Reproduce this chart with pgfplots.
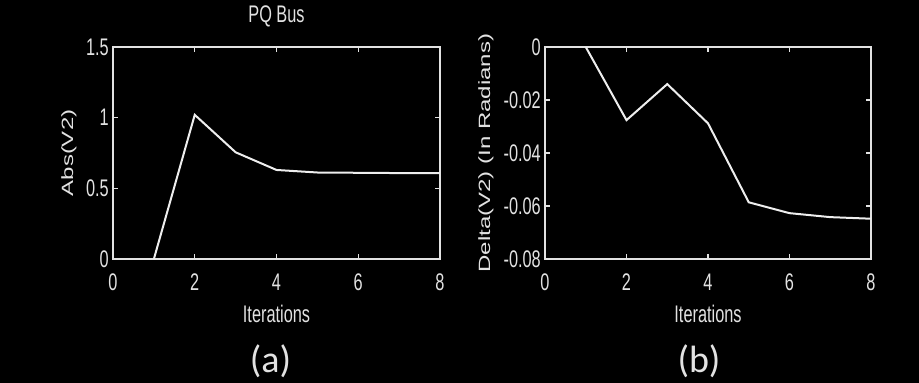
\documentclass[border=0pt]{standalone}
\usepackage{fontspec}
\setmainfont{Liberation Sans}
\newfontfamily\sqfont[FakeStretch=0.68]{Liberation Sans}
\newfontfamily\capfont{Carlito}
\usepackage{graphicx}
\usepackage{pgfplots}
\pgfplotsset{compat=1.18}
\definecolor{fg}{HTML}{E2E2E2}
\definecolor{ln}{HTML}{EEEEEE}
\pgfplotsset{mstyle/.style={
  scale only axis, height=212bp, anchor=south west,
  axis line style={fg, line width=1.6bp},
  every tick/.style={fg, line width=1.4bp},
  major tick length=5bp,
  tick align=inside, xtick pos=both, ytick pos=both,
  scaled y ticks=false, scaled x ticks=false,
  xmin=0, xmax=8, xtick={0,2,4,6,8},
  xticklabels={0,2,4,6,8},
  ticklabel style={font=\sqfont\fontsize{24bp}{28bp}\selectfont, text=fg, inner sep=0pt},
  xticklabel style={anchor=base, yshift=-32bp},
  yticklabel style={anchor=east, xshift=-4bp},
  xlabel={Iterations},
  xlabel style={at={(axis description cs:0.5,0)}, anchor=base, yshift=-63bp,
    font=\sqfont\fontsize{24bp}{28bp}\selectfont, text=fg, inner sep=0pt},
  ylabel style={anchor=center, rotate=0, font=\fontsize{24bp}{28bp}\selectfont, text=fg, inner sep=0pt},
  title style={at={(axis description cs:0.5,1)}, anchor=base, yshift=19bp,
    font=\sqfont\fontsize{24bp}{28bp}\selectfont, text=fg, inner sep=0pt},
  clip=false,
}}
\begin{document}
\begin{tikzpicture}
\fill[black] (0,0) rectangle (919bp,383bp);
\begin{axis}[mstyle, at={(113bp,124bp)}, width=327bp,
  title={PQ Bus},
  ymin=0, ymax=1.5, ytick={0,0.5,1,1.5}, yticklabels={0,0.5,1,1.5},
  ylabel={\scalebox{1}[0.68]{Abs(V2)}},
  ylabel style={at={(axis description cs:-0.1346,0.5)}},
]
\addplot[ln, line width=2bp] coordinates {
(1,0) (2,1.02) (3,0.755) (4,0.63) (5,0.612) (6,0.61) (7,0.608) (8,0.607)
};
\node[anchor=base, text=fg, font=\capfont\fontsize{38bp}{40bp}\selectfont, inner sep=0pt]
  at ([xshift=-6bp,yshift=-113bp]axis description cs:0.5,0) {(a)};
\end{axis}
\begin{axis}[mstyle, at={(545bp,124bp)}, width=326bp,
  ymin=-0.08, ymax=0, ytick={-0.08,-0.06,-0.04,-0.02,0},
  yticklabels={-0.08,-0.06,-0.04,-0.02,0},
  ylabel={\scalebox{1}[0.68]{Delta(V2) (In Radians)}},
  ylabel style={at={(axis description cs:-0.181,0.5)}},
]
\addplot[ln, line width=2bp] coordinates {
(1,0) (2,-0.0276) (3,-0.014) (4,-0.0288) (5,-0.0586) (6,-0.0627) (7,-0.0642) (8,-0.0648)
};
\node[anchor=base, text=fg, font=\capfont\fontsize{38bp}{40bp}\selectfont, inner sep=0pt]
  at ([xshift=-9bp,yshift=-113bp]axis description cs:0.5,0) {(b)};
\end{axis}
\pgfresetboundingbox
\path[use as bounding box] (0,0) rectangle (919bp,383bp);
\end{tikzpicture}
\end{document}
